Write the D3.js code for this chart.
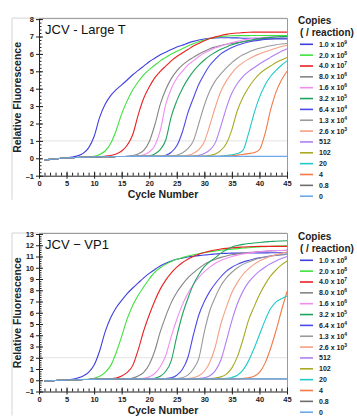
<!DOCTYPE html>
<html>
<head>
<meta charset="utf-8">
<script src="https://cdn.jsdelivr.net/npm/d3@7"></script>
<style>
body { margin: 0; background: #fff; }
text { font-family: Arial, "Liberation Sans", sans-serif; }
</style>
</head>
<body>
<script>
// cycle numbers, shared by both panels
var cycles = [1,2,3,4,5,6,7,8,9,10,11,12,13,14,15,16,17,18,19,20,21,22,23,24,25,26,27,28,29,30,31,32,33,34,35,36,37,38,39,40,41,42,43,44,45];

// legend: copies per reaction (mantissa text + exponent)
var copyText = ["1.0 x 10","2.0 x 10","4.0 x 10","8.0 x 10","1.6 x 10","3.2 x 10","6.4 x 10","1.3 x 10","2.6 x 10","512","102","20","4","0.8","0"];
var copyExp  = ["9","8","7","6","6","5","4","4","3","","","","","",""];
var lineColors = ["#3f3fe0","#3fe23f","#e82222","#858585","#f28ef2","#1fa35f","#4b4bea","#9a9a9a","#f4a184","#b27ff2","#a9a923","#22c9c9","#f27a48","#6e6e6e","#6ea8e6"];

var xTicks = [0,5,10,15,20,25,30,35,40,45];
var largeTTicks = [-1,0,1,2,3,4,5,6,7,8];
var vp1Ticks = [-1,0,1,2,3,4,5,6,7,8,9,10,11,12,13];

// JCV - Large T, relative fluorescence per cycle
var largeT = [
 [-0.1,-0.06,-0.03,0,0.03,0.07,0.14,0.28,0.6,1.25,2.35,3.1,3.6,3.95,4.22,4.5,4.8,5.05,5.3,5.55,5.75,5.95,6.1,6.25,6.4,6.5,6.62,6.72,6.8,6.86,6.9,6.92,6.93,6.93,6.92,6.92,6.9,6.9,6.9,6.88,6.88,6.87,6.87,6.86,6.86],
 [-0.1,-0.06,-0.03,0,0.02,0.04,0.05,0.06,0.08,0.12,0.22,0.42,0.85,1.6,2.55,3.3,3.92,4.4,4.8,5.1,5.35,5.6,5.8,6.0,6.15,6.3,6.45,6.58,6.7,6.8,6.88,6.95,7.0,7.02,7.04,7.05,7.05,7.05,7.06,7.06,7.06,7.06,7.06,7.06,7.06],
 [-0.1,-0.06,-0.03,0,0.02,0.04,0.05,0.06,0.07,0.08,0.1,0.12,0.16,0.25,0.42,0.75,1.35,2.5,3.45,4.1,4.62,5.0,5.3,5.6,5.85,6.05,6.25,6.45,6.6,6.75,6.88,6.98,7.06,7.12,7.17,7.2,7.22,7.24,7.25,7.25,7.25,7.25,7.25,7.25,7.25],
 [-0.1,-0.06,-0.03,0,0.02,0.04,0.05,0.06,0.07,0.08,0.08,0.09,0.09,0.1,0.1,0.12,0.16,0.25,0.45,0.95,1.9,3.1,3.95,4.58,5.03,5.35,5.6,5.8,6.0,6.15,6.3,6.4,6.48,6.55,6.6,6.65,6.7,6.74,6.78,6.81,6.84,6.86,6.88,6.89,6.9],
 [-0.1,-0.06,-0.03,0,0.02,0.04,0.05,0.06,0.07,0.08,0.08,0.09,0.09,0.1,0.1,0.11,0.12,0.14,0.2,0.36,0.72,1.6,3.1,4.0,4.6,5.0,5.35,5.6,5.85,6.05,6.2,6.35,6.45,6.55,6.65,6.72,6.8,6.85,6.9,6.93,6.95,6.97,6.98,6.99,7.0],
 [-0.1,-0.06,-0.03,0,0.02,0.04,0.05,0.06,0.07,0.08,0.08,0.09,0.09,0.1,0.1,0.1,0.11,0.11,0.12,0.15,0.25,0.5,1.05,2.4,3.3,4.0,4.55,5.0,5.35,5.65,5.9,6.1,6.27,6.4,6.52,6.62,6.7,6.77,6.83,6.88,6.92,6.95,6.97,6.99,7.0],
 [-0.1,-0.06,-0.03,0,0.02,0.04,0.05,0.06,0.07,0.08,0.08,0.09,0.09,0.1,0.1,0.1,0.1,0.11,0.11,0.11,0.11,0.12,0.18,0.35,0.72,1.5,2.6,3.45,4.25,4.85,5.35,5.7,6.0,6.2,6.37,6.5,6.6,6.68,6.74,6.79,6.83,6.86,6.88,6.9,6.9],
 [-0.1,-0.06,-0.03,0,0.02,0.04,0.05,0.06,0.07,0.08,0.08,0.09,0.09,0.1,0.1,0.1,0.1,0.11,0.11,0.11,0.11,0.12,0.12,0.13,0.18,0.3,0.55,1.0,2.0,3.05,3.88,4.45,4.85,5.2,5.5,5.75,5.95,6.1,6.22,6.32,6.4,6.47,6.53,6.57,6.6],
 [-0.1,-0.06,-0.03,0,0.02,0.04,0.05,0.06,0.07,0.08,0.08,0.09,0.09,0.1,0.1,0.1,0.1,0.11,0.11,0.11,0.11,0.12,0.12,0.12,0.12,0.13,0.17,0.28,0.5,0.95,1.9,2.95,3.85,4.45,4.9,5.25,5.5,5.7,5.87,6.0,6.12,6.23,6.33,6.42,6.5],
 [-0.1,-0.06,-0.03,0,0.02,0.04,0.05,0.06,0.07,0.08,0.08,0.09,0.09,0.1,0.1,0.1,0.1,0.11,0.11,0.11,0.11,0.12,0.12,0.12,0.12,0.12,0.12,0.13,0.17,0.27,0.48,0.9,1.85,2.9,3.75,4.3,4.7,4.98,5.2,5.42,5.62,5.8,5.98,6.15,6.3],
 [-0.1,-0.06,-0.03,0,0.02,0.04,0.05,0.06,0.07,0.08,0.08,0.09,0.09,0.1,0.1,0.1,0.1,0.11,0.11,0.11,0.11,0.12,0.12,0.12,0.12,0.12,0.12,0.12,0.12,0.13,0.17,0.25,0.45,0.85,1.65,2.75,3.5,4.05,4.5,4.85,5.1,5.3,5.5,5.65,5.8],
 [-0.1,-0.06,-0.03,0,0.02,0.04,0.05,0.06,0.07,0.08,0.08,0.09,0.09,0.1,0.1,0.1,0.1,0.11,0.11,0.11,0.11,0.12,0.12,0.12,0.12,0.12,0.12,0.12,0.12,0.12,0.12,0.12,0.13,0.16,0.2,0.27,0.45,1.4,2.55,3.5,4.2,4.7,5.05,5.35,5.6],
 [-0.1,-0.06,-0.03,0,0.02,0.04,0.05,0.06,0.07,0.08,0.08,0.09,0.09,0.1,0.1,0.1,0.1,0.11,0.11,0.11,0.11,0.12,0.12,0.12,0.12,0.12,0.12,0.12,0.12,0.12,0.12,0.12,0.12,0.12,0.15,0.18,0.22,0.27,0.32,0.5,1.4,2.75,3.8,4.5,5.0],
 [-0.1,-0.06,-0.03,0,0.02,0.04,0.05,0.06,0.07,0.08,0.08,0.09,0.09,0.1,0.1,0.1,0.1,0.1,0.1,0.1,0.1,0.1,0.1,0.1,0.1,0.1,0.1,0.1,0.1,0.1,0.1,0.1,0.1,0.1,0.1,0.1,0.1,0.1,0.1,0.1,0.1,0.1,0.1,0.1,0.1],
 [-0.1,-0.06,-0.03,0,0.02,0.04,0.05,0.06,0.07,0.08,0.09,0.09,0.1,0.1,0.1,0.11,0.11,0.11,0.11,0.11,0.11,0.11,0.11,0.11,0.11,0.11,0.11,0.11,0.11,0.11,0.11,0.11,0.11,0.11,0.11,0.11,0.11,0.11,0.11,0.11,0.11,0.11,0.11,0.11,0.11]
];

// JCV - VP1, relative fluorescence per cycle
var vp1 = [
 [-0.06,-0.05,-0.02,0,0.02,0.08,0.2,0.38,0.7,1.35,2.6,4.3,5.55,6.45,7.1,7.7,8.2,8.65,9.1,9.5,9.85,10.15,10.4,10.6,10.75,10.85,10.95,11.02,11.08,11.13,11.18,11.22,11.26,11.28,11.3,11.3,11.31,11.31,11.32,11.32,11.32,11.33,11.33,11.33,11.33],
 [-0.06,-0.05,-0.02,0,0.02,0.04,0.05,0.07,0.1,0.18,0.35,0.7,1.3,2.45,3.9,5.45,6.65,7.55,8.3,9.0,9.6,10.0,10.3,10.55,10.75,10.9,11.05,11.15,11.25,11.35,11.42,11.5,11.55,11.6,11.65,11.7,11.75,11.78,11.82,11.85,11.88,11.9,11.92,11.94,11.95],
 [-0.06,-0.05,-0.02,0,0.02,0.04,0.05,0.06,0.07,0.08,0.09,0.1,0.13,0.2,0.38,0.7,1.3,2.7,4.4,5.8,7.05,8.1,8.9,9.55,10.05,10.45,10.75,11.0,11.2,11.35,11.48,11.58,11.66,11.72,11.77,11.81,11.84,11.87,11.89,11.9,11.9,11.9,11.9,11.9,11.9],
 [-0.06,-0.05,-0.02,0,0.02,0.04,0.05,0.06,0.07,0.08,0.09,0.1,0.1,0.11,0.11,0.13,0.2,0.38,0.7,1.4,2.6,4.3,5.7,6.9,7.8,8.5,9.1,9.55,9.95,10.3,10.55,10.75,10.92,11.05,11.15,11.23,11.3,11.35,11.4,11.44,11.47,11.5,11.52,11.54,11.55],
 [-0.06,-0.05,-0.02,0,0.02,0.04,0.05,0.06,0.07,0.08,0.09,0.1,0.1,0.11,0.11,0.11,0.12,0.13,0.18,0.3,0.6,1.2,2.2,3.9,5.4,6.7,7.7,8.5,9.15,9.65,10.05,10.4,10.65,10.85,11.0,11.12,11.22,11.3,11.37,11.42,11.46,11.5,11.52,11.54,11.55],
 [-0.06,-0.05,-0.02,0,0.02,0.04,0.05,0.06,0.07,0.08,0.09,0.1,0.1,0.11,0.11,0.11,0.12,0.12,0.12,0.13,0.18,0.35,0.8,1.75,3.9,5.8,7.25,8.5,9.4,10.1,10.55,10.9,11.3,11.6,11.85,11.98,12.08,12.15,12.2,12.25,12.3,12.33,12.36,12.38,12.4],
 [-0.06,-0.05,-0.02,0,0.02,0.04,0.05,0.06,0.07,0.08,0.09,0.1,0.1,0.11,0.11,0.11,0.12,0.12,0.12,0.12,0.12,0.13,0.16,0.22,0.45,0.95,2.0,4.0,5.8,7.0,7.9,8.6,9.2,9.7,10.05,10.3,10.5,10.65,10.78,10.88,10.96,11.04,11.1,11.15,11.2],
 [-0.06,-0.05,-0.02,0,0.02,0.04,0.05,0.06,0.07,0.08,0.09,0.1,0.1,0.11,0.11,0.11,0.12,0.12,0.12,0.12,0.12,0.12,0.12,0.13,0.16,0.22,0.45,1.0,1.95,4.3,6.2,7.4,8.4,9.1,9.6,10.0,10.3,10.52,10.7,10.84,10.95,11.04,11.11,11.16,11.2],
 [-0.06,-0.05,-0.02,0,0.02,0.04,0.05,0.06,0.07,0.08,0.09,0.1,0.1,0.11,0.11,0.11,0.12,0.12,0.12,0.12,0.12,0.12,0.12,0.12,0.12,0.13,0.16,0.22,0.4,0.8,1.6,3.0,5.0,6.5,7.8,8.7,9.4,9.9,10.3,10.6,10.83,11.0,11.15,11.28,11.4],
 [-0.06,-0.05,-0.02,0,0.02,0.04,0.05,0.06,0.07,0.08,0.09,0.1,0.1,0.11,0.11,0.11,0.12,0.12,0.12,0.12,0.12,0.12,0.12,0.12,0.12,0.12,0.12,0.13,0.16,0.22,0.4,0.85,1.8,3.5,5.3,6.8,7.9,8.7,9.25,9.7,10.05,10.35,10.6,10.82,11.0],
 [-0.06,-0.05,-0.02,0,0.02,0.04,0.05,0.06,0.07,0.08,0.09,0.1,0.1,0.11,0.11,0.11,0.12,0.12,0.12,0.12,0.12,0.12,0.12,0.12,0.12,0.12,0.12,0.12,0.12,0.13,0.15,0.2,0.3,0.55,1.1,2.1,3.6,5.3,6.5,7.6,8.5,9.25,9.8,10.25,10.6],
 [-0.06,-0.05,-0.02,0,0.02,0.04,0.05,0.06,0.07,0.08,0.09,0.1,0.1,0.11,0.11,0.11,0.12,0.12,0.12,0.12,0.12,0.12,0.12,0.12,0.12,0.12,0.12,0.12,0.12,0.12,0.12,0.12,0.13,0.17,0.25,0.45,0.9,1.7,2.8,4.05,5.3,6.35,6.95,7.25,7.5],
 [-0.06,-0.05,-0.02,0,0.02,0.04,0.05,0.06,0.07,0.08,0.09,0.1,0.1,0.11,0.11,0.11,0.12,0.12,0.12,0.12,0.12,0.12,0.12,0.12,0.12,0.12,0.12,0.12,0.12,0.12,0.12,0.12,0.12,0.12,0.12,0.13,0.16,0.22,0.35,0.7,1.5,2.8,4.4,6.2,7.9],
 [-0.06,-0.05,-0.02,0,0.02,0.04,0.05,0.06,0.07,0.08,0.09,0.1,0.1,0.11,0.11,0.11,0.11,0.11,0.11,0.11,0.11,0.11,0.11,0.11,0.11,0.11,0.11,0.11,0.11,0.11,0.11,0.11,0.11,0.11,0.11,0.11,0.11,0.11,0.11,0.11,0.11,0.11,0.11,0.11,0.11],
 [-0.06,-0.05,-0.02,0,0.02,0.04,0.05,0.06,0.07,0.08,0.09,0.1,0.1,0.11,0.11,0.12,0.12,0.12,0.12,0.12,0.12,0.12,0.12,0.12,0.12,0.12,0.12,0.12,0.12,0.12,0.12,0.12,0.12,0.12,0.12,0.12,0.12,0.12,0.12,0.12,0.12,0.12,0.12,0.12,0.12]
];

var svg = d3.select("body").append("svg")
    .attr("width", 357)
    .attr("height", 416);

var x = d3.scaleLinear().domain([0, 45]).range([39, 287]);

function drawPanel(title, rows, yTicks, yTop, yBottom, threshold, dy) {
    var yMax = yTicks[yTicks.length - 1];
    var y = d3.scaleLinear().domain([-1, yMax]).range([yBottom, yTop]);
    var g = svg.append("g");

    // faint panel border + plot frame (top/right)
    g.append("path")
        .attr("d", "M12," + (yBottom + 24) + "V" + (yTop - 1) + "H287")
        .attr("fill", "none").attr("stroke", "#d4d4d4").attr("stroke-width", 1);
    g.append("path")
        .attr("d", "M39," + (yTop - 0.5) + "H287.5V" + yBottom)
        .attr("fill", "none").attr("stroke", "#9a9a9a").attr("stroke-width", 1);

    // threshold line
    g.append("line")
        .attr("x1", x(0)).attr("x2", x(45))
        .attr("y1", y(threshold)).attr("y2", y(threshold))
        .attr("stroke", "#e2e2e2").attr("stroke-width", 1);

    var line = d3.line()
        .x(function(d, i) { return x(cycles[i]); })
        .y(function(d) { return y(d); })
        .curve(d3.curveMonotoneX);

    g.selectAll("path.curve")
        .data(rows)
      .enter().append("path")
        .attr("class", "curve")
        .attr("d", line)
        .attr("fill", "none")
        .attr("stroke", function(d, i) { return lineColors[i]; })
        .attr("stroke-width", 1.1);

    // y axis: major ticks cross the line, minor ticks inside
    var minorY = d3.range(-1, yMax + 0.001, 0.2).map(function(v) { return Math.round(v * 10) / 10; });
    g.append("g").attr("transform", "translate(39,0)")
        .call(d3.axisRight(y).tickValues(minorY).tickSize(2.5).tickFormat(""))
        .call(function(s) { s.select(".domain").remove(); });
    g.append("g").attr("transform", "translate(39,0)")
        .call(d3.axisRight(y).tickValues(yTicks).tickSize(4).tickFormat(""))
        .call(function(s) { s.select(".domain").remove(); });
    var ya = g.append("g").attr("transform", "translate(39,0)")
        .call(d3.axisLeft(y).tickValues(yTicks).tickSize(3).tickSizeOuter(0).tickPadding(2)
              .tickFormat(function(v) { return v < 0 ? "\u2013" + (-v) : v; }));
    ya.selectAll("text").attr("font-size", 7.5).attr("font-weight", "bold").attr("fill", "#222")
        .style("font-family", "Arial, 'Liberation Sans', sans-serif");

    // x axis
    g.append("g").attr("transform", "translate(0," + yBottom + ")")
        .call(d3.axisTop(x).tickValues(d3.range(0, 46, 1)).tickSize(3).tickFormat(""))
        .call(function(s) { s.select(".domain").remove(); });
    g.append("g").attr("transform", "translate(0," + yBottom + ")")
        .call(d3.axisTop(x).tickValues(xTicks).tickSize(4).tickFormat(""))
        .call(function(s) { s.select(".domain").remove(); });
    var xa = g.append("g").attr("transform", "translate(0," + yBottom + ")")
        .call(d3.axisBottom(x).tickValues(xTicks).tickSize(3).tickSizeOuter(0).tickPadding(2));
    xa.selectAll("text").attr("font-size", 7.5).attr("font-weight", "bold").attr("fill", "#222")
        .style("font-family", "Arial, 'Liberation Sans', sans-serif");

    g.selectAll(".tick line").attr("stroke", "#222");
    g.selectAll(".domain").attr("stroke", "#222");

    // labels
    g.append("text")
        .attr("x", x(22.5)).attr("y", yBottom + 22)
        .attr("text-anchor", "middle")
        .attr("font-size", 10.5).attr("font-weight", "bold").attr("fill", "#222")
        .text("Cycle Number");
    g.append("text")
        .attr("transform", "translate(20.5," + ((yTop + yBottom) / 2) + ") rotate(-90)")
        .attr("text-anchor", "middle")
        .attr("font-size", 10.5).attr("font-weight", "bold").attr("fill", "#222")
        .text("Relative Fluorescence");
    g.append("text")
        .attr("x", 45).attr("y", yTop + 14.5)
        .attr("font-size", 13).attr("fill", "#111")
        .text(title);

    // legend
    g.append("text").attr("x", 298).attr("y", 24 + dy)
        .attr("font-size", 10).attr("font-weight", "bold").attr("fill", "#222").text("Copies");
    g.append("text").attr("x", 300).attr("y", 35.5 + dy)
        .attr("font-size", 10).attr("font-weight", "bold").attr("fill", "#222").text("( / reaction)");

    var item = g.selectAll("g.leg")
        .data(copyText)
      .enter().append("g")
        .attr("class", "leg")
        .attr("transform", function(d, i) { return "translate(0," + (44.3 + dy + i * 10.85) + ")"; });
    item.append("line")
        .attr("x1", 300).attr("x2", 313)
        .attr("stroke", function(d, i) { return lineColors[i]; })
        .attr("stroke-width", 1.6);
    var lt = item.append("text")
        .attr("x", 319).attr("y", 2.4)
        .attr("font-size", 7).attr("font-weight", "bold").attr("fill", "#222");
    lt.append("tspan").text(function(d) { return d; });
    lt.append("tspan")
        .attr("dy", -3).attr("font-size", 5)
        .text(function(d, i) { return copyExp[i]; });
}

drawPanel("JCV - Large T", largeT, largeTTicks, 19.1, 175.7, 1, 0);
drawPanel("JCV \u2212 VP1", vp1, vp1Ticks, 234, 391.5, 2, 216);
</script>
</body>
</html>
